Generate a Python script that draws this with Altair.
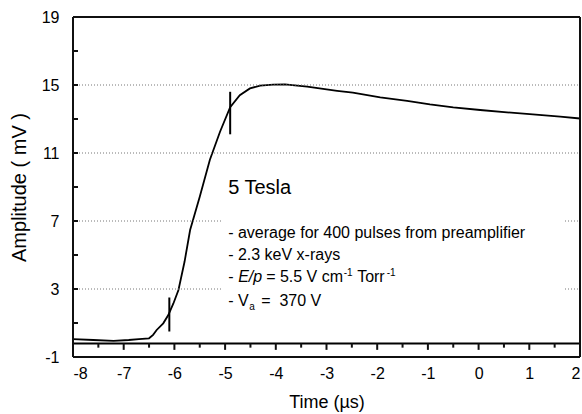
import altair as alt
import pandas as pd

# ---- data ----
time_us = [-8.0, -7.6, -7.2, -6.9, -6.7, -6.5, -6.42, -6.35, -6.22, -6.12, -6.02, -5.92,
           -5.8, -5.69, -5.5, -5.3, -5.1, -4.9, -4.71, -4.51, -4.31, -4.05, -3.82,
           -3.38, -2.79, -2.48, -1.94, -1.41, -0.96, -0.5, 0.03, 0.56, 1.07, 1.61, 2.0]
amplitude_mv = [0.05, 0.0, -0.05, 0.0, 0.05, 0.1, 0.3, 0.59, 0.98, 1.47, 2.15, 2.94,
                4.6, 6.47, 8.43, 10.6, 12.25, 13.7, 14.4, 14.8, 14.96, 15.02, 15.04,
                14.9, 14.66, 14.55, 14.27, 14.07, 13.86, 13.68, 13.53, 13.39, 13.27, 13.14, 13.03]

x_major = [-8, -7, -6, -5, -4, -3, -2, -1, 0, 1, 2]
x_minor = [-7.5, -6.5, -5.5, -4.5, -3.5, -2.5, -1.5, -0.5, 0.5, 1.5]
y_labels = [-1, 3, 7, 11, 15, 19]
y_grid = [3, 7, 11, 15]
y_inward = [1, 3, 5, 7, 9, 11, 13, 15, 17]
marker_x = [-6.1, -4.9]
marker_lo = [0.5, 12.1]
marker_hi = [2.5, 14.6]
baseline_level = -0.2
major_tick_end = -0.58
minor_tick_end = -0.45

FONT = "Liberation Sans"
W, H = 507, 340
INK = "#101010"

x_scale = alt.Scale(domain=[-8, 2], nice=False, zero=False)
y_scale = alt.Scale(domain=[-1, 19], nice=False, zero=False)

curve = alt.Chart(pd.DataFrame({"t": time_us, "a": amplitude_mv})).mark_line(
    color="black", strokeWidth=1.8
).encode(
    x=alt.X("t:Q", scale=x_scale, title="Time (µs)",
            axis=alt.Axis(values=x_major, labelExpr="datum.value + ''", ticks=False,
                          domain=False, grid=False, labelPadding=8, titlePadding=12)),
    y=alt.Y("a:Q", scale=y_scale, title="Amplitude ( mV )",
            axis=alt.Axis(values=y_labels, labelExpr="datum.value + ''", ticks=False,
                          domain=False, grid=False, labelPadding=14, titlePadding=12)),
)

grid = alt.Chart(pd.DataFrame({"g": y_grid})).mark_rule(
    color="#777777", strokeWidth=1, strokeDash=[1, 2]
).encode(y="g:Q", x=alt.value(0), x2=alt.value(W))

box = alt.Chart(pd.DataFrame({"bx0": [-5.08], "bx1": [1.68], "by0": [1.0], "by1": [10.0]})).mark_rect(
    color="white"
).encode(x="bx0:Q", x2="bx1:Q", y="by0:Q", y2="by1:Q")

markers = alt.Chart(pd.DataFrame({"mx": marker_x, "lo": marker_lo, "hi": marker_hi})).mark_rule(
    color="black", strokeWidth=2
).encode(x="mx:Q", y="lo:Q", y2="hi:Q")

base_line = alt.Chart(pd.DataFrame({"b": [baseline_level]})).mark_rule(
    color="black", strokeWidth=2
).encode(y="b:Q", x=alt.value(0), x2=alt.value(W))

major_ticks = alt.Chart(pd.DataFrame({
    "t": x_major, "ty0": [baseline_level] * len(x_major), "ty1": [major_tick_end] * len(x_major)
})).mark_rule(color=INK, strokeWidth=2).encode(x="t:Q", y="ty0:Q", y2="ty1:Q")

minor_ticks = alt.Chart(pd.DataFrame({
    "t": x_minor, "ty0": [baseline_level] * len(x_minor), "ty1": [minor_tick_end] * len(x_minor)
})).mark_rule(color=INK, strokeWidth=2).encode(x="t:Q", y="ty0:Q", y2="ty1:Q")

y_ticks = alt.Chart(pd.DataFrame({"v": y_inward})).mark_rule(
    color=INK, strokeWidth=2
).encode(y="v:Q", x=alt.value(0), x2=alt.value(5))

# plot frame drawn as four rules (top, bottom, left, right)
frame_top = alt.Chart(pd.DataFrame({"f": [19]})).mark_rule(color=INK, strokeWidth=2).encode(
    y="f:Q", x=alt.value(0), x2=alt.value(W))
frame_bottom = alt.Chart(pd.DataFrame({"f": [-1]})).mark_rule(color=INK, strokeWidth=2).encode(
    y="f:Q", x=alt.value(0), x2=alt.value(W))
frame_left = alt.Chart(pd.DataFrame({"f": [-8]})).mark_rule(color=INK, strokeWidth=2).encode(
    x="f:Q", y=alt.value(0), y2=alt.value(H))
frame_right = alt.Chart(pd.DataFrame({"f": [2]})).mark_rule(color=INK, strokeWidth=2).encode(
    x="f:Q", y=alt.value(0), y2=alt.value(H))

AX = -4.94


def txt(s, yv, dx=0, dy=0, size=16, style="normal"):
    return alt.Chart(pd.DataFrame({"s": [s], "xx": [AX], "yy": [yv]})).mark_text(
        align="left", baseline="alphabetic", font=FONT, fontSize=size,
        fontStyle=style, color="black", dx=dx, dy=dy
    ).encode(x="xx:Q", y="yy:Q", text="s:N")


texts = [
    txt("5 Tesla", 8.59, size=20),
    txt("- average for 400 pulses from preamplifier", 6.0),
    txt("- 2.3 keV x-rays", 4.71),
    txt("-", 3.41),
    txt("E/p", 3.41, dx=10, style="italic"),
    txt("= 5.5 V cm", 3.41, dx=38),
    txt("-1", 3.41, dx=115.5, dy=-6, size=10),
    txt("Torr", 3.41, dx=129),
    txt("-1", 3.41, dx=158.5, dy=-6, size=10),
    txt("- V", 2.0),
    txt("a", 2.0, dx=21, dy=4, size=10),
    txt("=\u00a0\u00a0370 V", 2.0, dx=33),
]

chart = alt.layer(
    curve, grid, box, markers, base_line, major_ticks, minor_ticks, y_ticks,
    frame_top, frame_bottom, frame_left, frame_right, *texts
).properties(
    width=W, height=H,
    autosize=alt.AutoSizeParams(type="none"),
    padding={"left": 73, "top": 17, "right": 2, "bottom": 57},
).configure_view(
    stroke=None
).configure_axis(
    labelFont=FONT, labelFontSize=16, labelColor="black",
    titleFont=FONT, titleFontWeight="normal", titleColor="black",
).configure_axisX(titleFontSize=18).configure_axisY(titleFontSize=20)

chart.save("out.html", embed_options={"renderer": "svg", "actions": False})
